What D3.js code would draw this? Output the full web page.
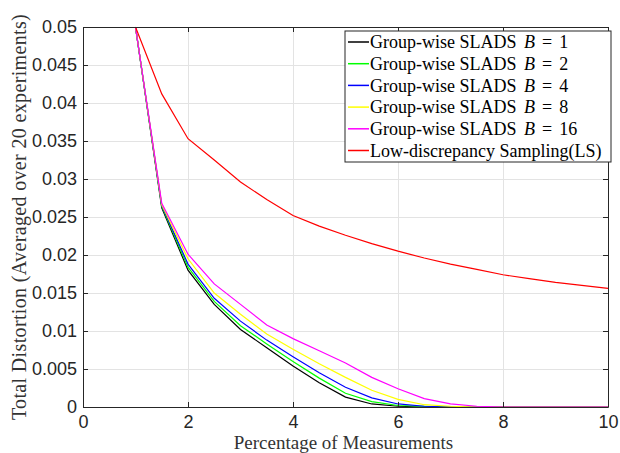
<!DOCTYPE html>
<html>
<head>
<meta charset="utf-8">
<script src="https://cdn.jsdelivr.net/npm/d3@7"></script>
<style>
  body { margin: 0; background: #fff; }
  svg { display: block; }
</style>
</head>
<body>
<svg id="chart" width="620" height="453"></svg>
<script>
// percentage of measurements
const xs = [1, 1.5, 2, 2.5, 3, 3.5, 4, 4.5, 5, 5.5, 6, 6.5, 7, 7.5, 8, 8.5, 9, 9.5, 10];

const b1  = [0.05, 0.0262, 0.0180, 0.0135, 0.0102, 0.0078, 0.0054, 0.0032, 0.0013, 0.0004, 0.0001, 0, 0, 0, 0, 0, 0, 0, 0];
const b2  = [0.05, 0.0264, 0.0184, 0.0139, 0.0107, 0.0083, 0.0060, 0.0038, 0.0018, 0.0007, 0.0002, 0.0001, 0, 0, 0, 0, 0, 0, 0];
const b4  = [0.05, 0.0265, 0.0188, 0.0143, 0.0113, 0.0088, 0.0066, 0.0045, 0.0026, 0.0012, 0.0004, 0.0001, 0, 0, 0, 0, 0, 0, 0];
const b8  = [0.05, 0.0266, 0.0195, 0.0150, 0.0122, 0.0096, 0.0076, 0.0057, 0.0039, 0.0022, 0.0010, 0.0003, 0.0001, 0, 0, 0, 0, 0, 0];
const b16 = [0.05, 0.0268, 0.0201, 0.0162, 0.0135, 0.0108, 0.0090, 0.0074, 0.0058, 0.0039, 0.0024, 0.0011, 0.0004, 0.0001, 0, 0, 0, 0, 0];
const ls  = [0.05, 0.0412, 0.0353, 0.0325, 0.0296, 0.0273, 0.0252, 0.0238, 0.0226, 0.0215, 0.0205, 0.0196, 0.0188, 0.0181, 0.0174, 0.0169, 0.0164, 0.0160, 0.0156];

const xTicks = [0, 2, 4, 6, 8, 10];
const yTicks = [0, 0.005, 0.01, 0.015, 0.02, 0.025, 0.03, 0.035, 0.04, 0.045, 0.05];

const series = [
    {name: "Group-wise SLADS ", b: "1", color: "#000000", values: b1},
    {name: "Group-wise SLADS ", b: "2", color: "#00ff00", values: b2},
    {name: "Group-wise SLADS ", b: "4", color: "#0000ff", values: b4},
    {name: "Group-wise SLADS ", b: "8", color: "#ffff00", values: b8},
    {name: "Group-wise SLADS ", b: "16", color: "#ff00ff", values: b16},
    {name: "Low-discrepancy Sampling(LS)", b: null, color: "#ff0000", values: ls}
];

const svg = d3.select("#chart");
const margin = {top: 27, right: 12, bottom: 46, left: 83};
const width = 620 - margin.left - margin.right, height = 453 - margin.top - margin.bottom;
const axisColor = "#262626";
const serif = "'Liberation Serif', 'Times New Roman', serif";

const x = d3.scaleLinear().domain([0, 10]).range([0, width]);
const y = d3.scaleLinear().domain([0, 0.05]).range([height, 0]);

const g = svg.append("g")
    .attr("transform", `translate(${margin.left}, ${margin.top})`);

// grid
g.append("g")
    .attr("transform", `translate(0, ${height})`)
    .call(d3.axisBottom(x).tickValues(xTicks).tickSize(-height).tickFormat(""))
    .call(s => s.select(".domain").remove())
    .selectAll("line")
    .attr("stroke", "#e3e3e3")
    .attr("stroke-width", 1);

g.append("g")
    .call(d3.axisLeft(y).tickValues(yTicks).tickSize(-width).tickFormat(""))
    .call(s => s.select(".domain").remove())
    .selectAll("line")
    .attr("stroke", "#e3e3e3")
    .attr("stroke-width", 1);

// lines
const line = d3.line()
    .x((d, i) => x(xs[i]))
    .y(d => y(d));

g.selectAll(".series")
    .data(series)
    .join("path")
    .attr("class", "series")
    .attr("fill", "none")
    .attr("stroke", d => d.color)
    .attr("stroke-width", 1.2)
    .attr("d", d => line(d.values));

// axes with inward ticks, box on
const styleAxis = s => {
    s.select(".domain").attr("stroke", axisColor);
    s.selectAll(".tick line").attr("stroke", axisColor);
    s.selectAll("text")
        .attr("fill", axisColor)
        .style("font-family", "'Liberation Sans', Arial, sans-serif")
        .style("font-size", "18px");
};

g.append("g")
    .attr("transform", `translate(0, ${height})`)
    .call(d3.axisBottom(x).tickValues(xTicks).tickSizeInner(-5).tickSizeOuter(0).tickPadding(8))
    .call(styleAxis);

g.append("g")
    .call(d3.axisLeft(y).tickValues(yTicks).tickSizeInner(-5).tickSizeOuter(0).tickPadding(6).tickFormat(d3.format("~g")))
    .call(styleAxis);

g.append("g")
    .call(d3.axisTop(x).tickValues(xTicks).tickSizeInner(-5).tickSizeOuter(0).tickFormat(""))
    .call(styleAxis);

g.append("g")
    .attr("transform", `translate(${width}, 0)`)
    .call(d3.axisRight(y).tickValues(yTicks).tickSizeInner(-5).tickSizeOuter(0).tickFormat(""))
    .call(styleAxis);

// axis titles
svg.append("text")
    .attr("x", margin.left + width / 2 - 2)
    .attr("y", 449)
    .attr("text-anchor", "middle")
    .attr("fill", "#333")
    .style("font-family", serif)
    .style("font-size", "19px")
    .text("Percentage of Measurements");

svg.append("text")
    .attr("transform", "translate(26, 217) rotate(-90)")
    .attr("text-anchor", "middle")
    .attr("fill", "#333")
    .style("font-family", serif)
    .style("font-size", "20px")
    .style("letter-spacing", "0.35px")
    .text("Total Distortion (Averaged over 20 experiments)");

// legend
const legend = svg.append("g")
    .attr("transform", "translate(345, 31)");

legend.append("rect")
    .attr("width", 266)
    .attr("height", 131)
    .attr("fill", "#fff")
    .attr("stroke", axisColor)
    .attr("stroke-width", 1);

const rows = legend.selectAll(".row")
    .data(series)
    .join("g")
    .attr("class", "row")
    .attr("transform", (d, i) => `translate(0, ${11 + i * 21.7})`);

rows.append("line")
    .attr("x1", 3)
    .attr("x2", 24)
    .attr("stroke", d => d.color)
    .attr("stroke-width", 1.5);

const labels = rows.append("text")
    .attr("x", 25)
    .attr("dy", "0.35em")
    .attr("fill", "#000")
    .style("font-family", serif)
    .style("font-size", "18px");

labels.append("tspan").text(d => d.name);
const math = labels.filter(d => d.b !== null);
math.append("tspan").attr("dx", 3).style("font-style", "italic").text("B");
math.append("tspan").attr("dx", 7).text("=");
math.append("tspan").attr("dx", 7).text(d => d.b);
</script>
</body>
</html>
